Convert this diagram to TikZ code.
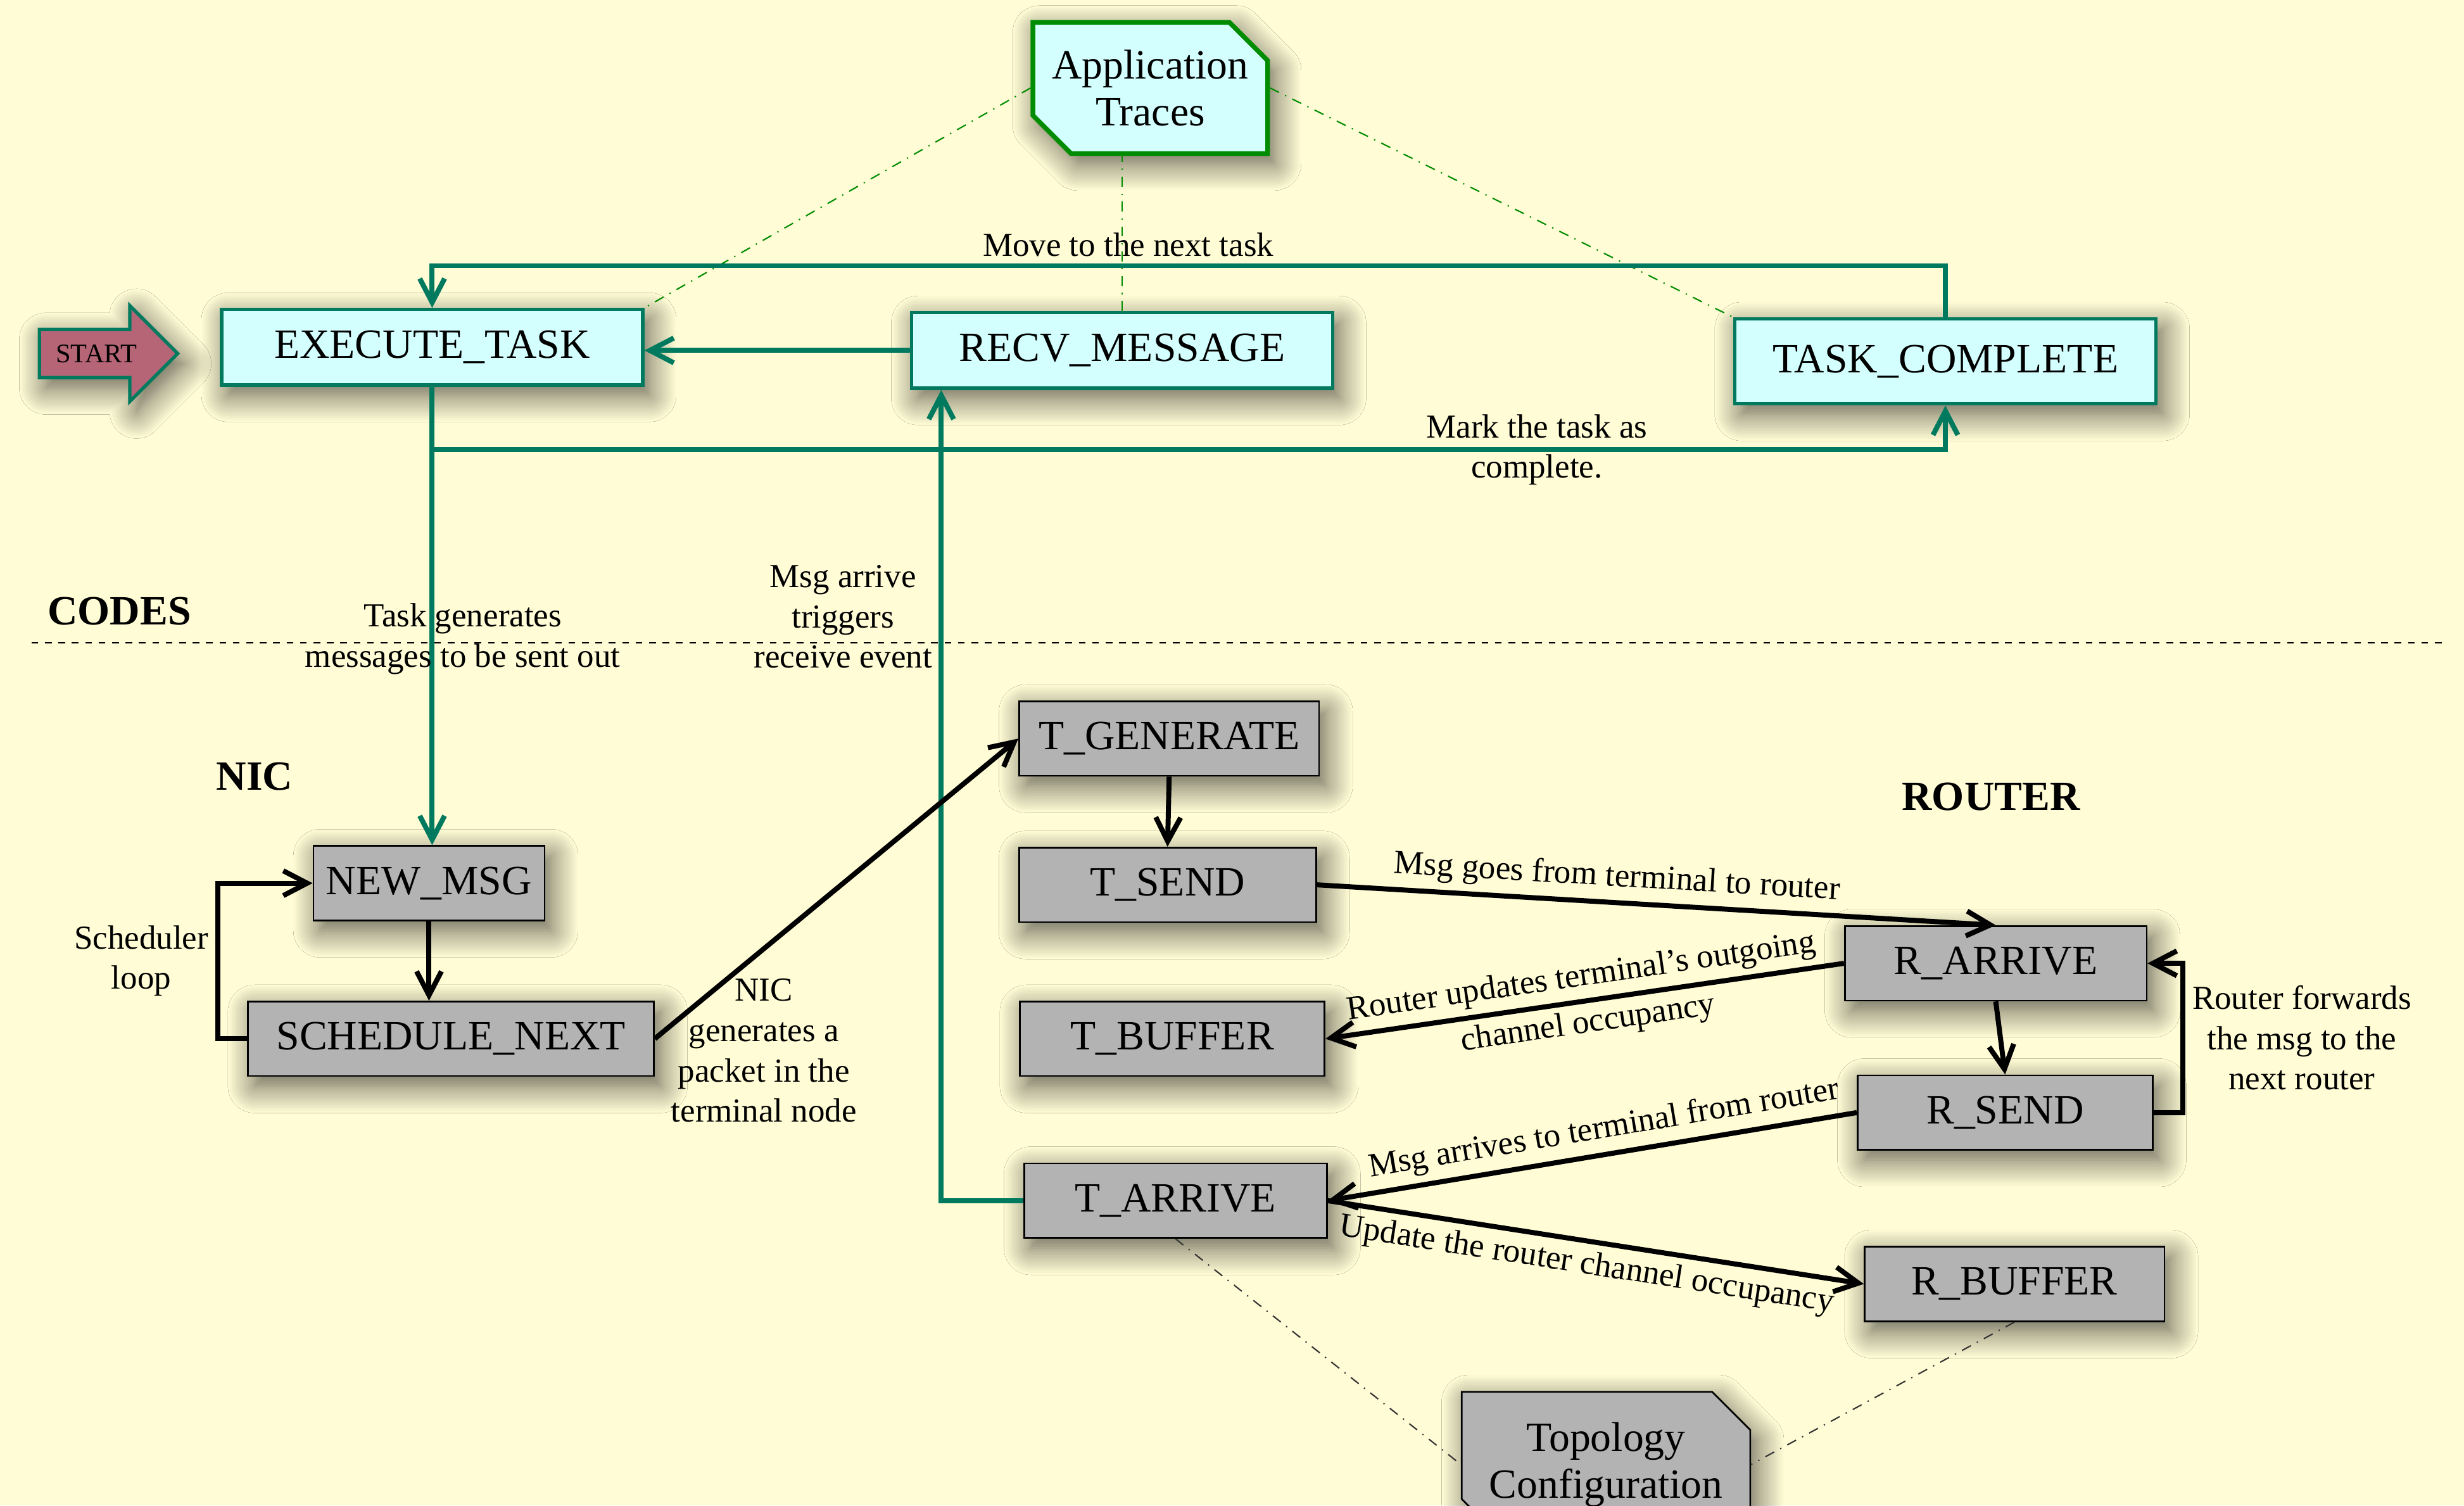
\documentclass[tikz,border=0pt]{standalone}
\usepackage{fontspec}
\setmainfont{Liberation Serif}
\usetikzlibrary{arrows.meta, shapes.misc, shapes.arrows, shadows.blur, calc}

\definecolor{bgyellow}{RGB}{255,252,214}
\definecolor{tealline}{RGB}{0,122,94}
\definecolor{cyanfill}{RGB}{212,255,255}
\definecolor{tracegreen}{RGB}{0,140,0}
\definecolor{startfill}{RGB}{181,101,118}
\definecolor{greyfill}{RGB}{179,179,179}

\newcommand{\nodefont}{\fontsize{12.4}{14}\selectfont}

\tikzset{
  softshadow/.style={blur shadow={shadow xshift=2pt, shadow yshift=-3pt,
      shadow blur radius=8pt, shadow blur steps=14, shadow opacity=65}},
  tealbox/.style={rectangle, draw=tealline, line width=1pt, fill=cyanfill,
      minimum width=4.41cm, minimum height=0.79cm, font=\nodefont, softshadow},
  tracebox/.style={chamfered rectangle, chamfered rectangle corners={north east, south west},
      chamfered rectangle xsep=0.2cm, chamfered rectangle ysep=0.2cm,
      inner xsep=0pt, inner ysep=2.5pt,
      draw=tracegreen, line width=1.4pt, fill=cyanfill,
      align=center, font=\nodefont, softshadow},
  startarrow/.style={single arrow, single arrow head extend=0.25cm, draw=tealline,
      line width=1pt, fill=startfill, inner xsep=0.155cm, inner ysep=0.14cm,
      font=\fontsize{8}{9.6}\selectfont, softshadow},
  greybox/.style={rectangle, draw=black, line width=0.5pt, fill=greyfill,
      minimum width=3.14cm, minimum height=0.78cm, font=\nodefont, softshadow},
  sectiontitle/.style={font=\nodefont\bfseries},
  edgetext/.style={align=center, inner sep=2pt, font=\normalsize},
  flow/.style={-{Straight Barb[length=2.5mm, width=2.6mm]}, line width=1.5pt, draw=tealline},
  link/.style={-{Straight Barb[length=2.5mm, width=2.6mm]}, line width=1.5pt, draw=black},
  tracelink/.style={thin, dash dot, draw=tracegreen},
  configlink/.style={thin, dash dot, draw=black!80},
}

\begin{document}
\begin{tikzpicture}
% Page and background
\useasboundingbox (0,0) rectangle (25.80,15.763);
\fill[bgyellow] (0,0) rectangle (25.80,15.763);

% Trace driven layer
\node[tracebox] (app) at (12.044,14.842) {Application\\Traces};
\node[startarrow, anchor=west] (start) at (0.395,12.061) {START};
\node[tealbox] (exec) at (4.525,12.127) {EXECUTE\_TASK};
\node[tealbox] (recv) at (11.748,12.094) {RECV\_MESSAGE};
\node[tealbox, minimum height=0.89cm] (taskc) at (20.370,11.979) {TASK\_COMPLETE};

\draw[tracelink] (app.west) -- (exec.north east);
\draw[tracelink] (recv.north) -- (recv.north |- app.south);
\draw[tracelink] (app.east) -- (taskc.north west);

% Sections
\node[sectiontitle] (codes) at (1.25,9.362) {CODES};
\node[sectiontitle] (nic) at (2.666,7.635) {NIC};
\node[sectiontitle] (router) at (20.847,7.421) {ROUTER};
\draw[dash pattern=on 2pt off 2pt, thin] (0.33,9.033) -- (25.59,9.033);

% NIC and router events
\node[greybox, minimum width=2.42cm] (newmsg) at (4.492,6.516) {NEW\_MSG};
\node[greybox, minimum width=4.25cm] (sched) at (4.722,4.887) {SCHEDULE\_NEXT};
\node[greybox] (tgen) at (12.242,8.030) {T\_GENERATE};
\node[greybox, minimum width=3.11cm] (tsend) at (12.225,6.499) {T\_SEND};
\node[greybox, minimum width=3.19cm] (tbuf) at (12.275,4.887) {T\_BUFFER};
\node[greybox, minimum width=3.17cm] (tarr) at (12.308,3.192) {T\_ARRIVE};
\node[greybox, minimum width=3.16cm] (rarr) at (20.897,5.677) {R\_ARRIVE};
\node[greybox, minimum width=3.09cm] (rsend) at (20.995,4.114) {R\_SEND};
\node[greybox] (rbuf) at (21.094,2.320) {R\_BUFFER};
\node[greybox, chamfered rectangle, chamfered rectangle corners={north east, south west},
      chamfered rectangle xsep=0.2cm, chamfered rectangle ysep=0.2cm, inner xsep=2.5pt,
      minimum width=2.91cm, minimum height=1.2cm, align=center] (topo) at (16.816,0.43) {Topology\\Configuration};

\draw[configlink] (tarr.south) -- (topo.west);
\draw[configlink] (rbuf.south) -- (topo.east);

% Application flow
\draw[flow] (taskc.north) -- ++(0,0.54) -| node[pos=0.27, above, edgetext] {Move to the next task} (exec.north);
\draw[flow] (recv.west) -- (recv.west -| exec.east);
\draw[flow] (exec.south) -- ++(0,-0.66) -| node[pos=0.365, edgetext] {Mark the task as\\complete.} (taskc.south);
\draw[flow] (exec.south) -- node[pos=0.55, xshift=0.32cm, edgetext] {Task generates\\messages to be sent out} (exec.south |- newmsg.north);
\draw[flow] (tarr.west) -| node[pos=0.86, left, edgetext] {Msg arrive\\triggers\\receive event} ($(recv.south west)+(0.33,0)$);

% Network flow
\draw[link] (newmsg.south) -- (newmsg.south |- sched.north);
\draw[link] (sched.west) -- ++(-0.31,0) |- node[pos=0.25, left, edgetext] {Scheduler\\loop} (newmsg.west);
\draw[link] (sched.east) -- node[pos=0.3, below, yshift=-0.22cm, edgetext] {NIC\\generates a\\packet in the\\terminal node} (tgen.west);
\draw[link] (tgen.south) -- (tsend.north);
\draw[link] (tsend.east) -- node[pos=0.44, above, sloped, edgetext] {Msg goes from terminal to router} (rarr.north);
\draw[link] (rarr.west) -- node[midway, sloped, edgetext] {Router updates terminal's outgoing\\[2pt]channel occupancy} (tbuf.east);
\draw[link] (rarr.south) -- (rsend.north);
\draw[link] (rsend.east) -- ++(0.31,0) |- node[pos=0.25, right, edgetext] {Router forwards\\the msg to the\\next router} (rarr.east);
\draw[link] (rsend.west) -- node[pos=0.47, above, sloped, edgetext] {Msg arrives to terminal from router} (tarr.east);
\draw[link] (tarr.east) -- node[pos=0.49, below, sloped, edgetext] {Update the router channel occupancy} (rbuf.west);
\end{tikzpicture}
\end{document}
